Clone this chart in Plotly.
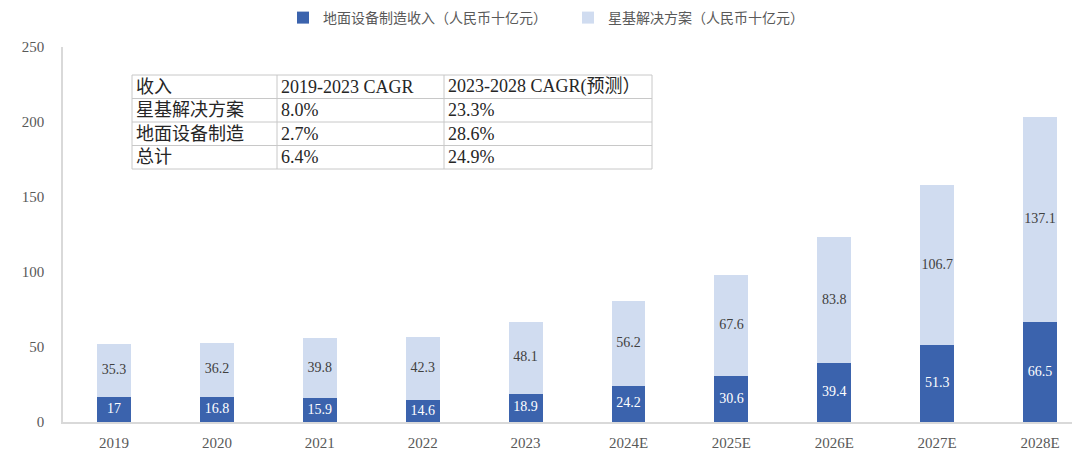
import plotly.graph_objects as go

# ---- data ----
years = ["2019", "2020", "2021", "2022", "2023", "2024E", "2025E", "2026E", "2027E", "2028E"]
ground_equipment = [17, 16.8, 15.9, 14.6, 18.9, 24.2, 30.6, 39.4, 51.3, 66.5]
satellite_solutions = [35.3, 36.2, 39.8, 42.3, 48.1, 56.2, 67.6, 83.8, 106.7, 137.1]
ground_name = "地面设备制造收入（人民币十亿元）"
sat_name = "星基解决方案（人民币十亿元）"

table_header = ["收入", "2019-2023 CAGR", "2023-2028 CAGR(预测）"]
table_rows = ["星基解决方案", "地面设备制造", "总计"]
cagr_2019_2023 = ["8.0%", "2.7%", "6.4%"]
cagr_2023_2028 = ["23.3%", "28.6%", "24.9%"]

# ---- styles ----
DARK = "#3B63AD"
LIGHT = "#D0DCF0"
GRAY = "#595959"
SERIF = "Liberation Serif, DejaVu Serif, serif"
CJK = "Noto Sans CJK SC"

OFF = 8  # page body margin in the browser
W, H = 1080 - OFF, 464 - OFF
ML, MR, MT, MB = 63 - OFF, 0, 47 - OFF, 42
PW, PH = W - ML - MR, H - MT - MB
PLOT_LEFT_IMG, PLOT_BOTTOM_IMG = ML + OFF, MT + OFF + PH

fig = go.Figure()
fig.add_trace(go.Bar(x=years, y=ground_equipment, name=ground_name,
                     marker=dict(color=DARK, line=dict(width=0)), hoverinfo="x+y"))
fig.add_trace(go.Bar(x=years, y=satellite_solutions, name=sat_name,
                     marker=dict(color=LIGHT, line=dict(width=0)), hoverinfo="x+y"))

# labels centred in each segment
fig.add_trace(go.Scatter(
    x=years, y=[v / 2 for v in ground_equipment], mode="text",
    text=[f"{v:g}" for v in ground_equipment],
    textfont=dict(family=SERIF, size=14, color="white"),
    showlegend=False, hoverinfo="skip", cliponaxis=False))
fig.add_trace(go.Scatter(
    x=years, y=[g + s / 2 for g, s in zip(ground_equipment, satellite_solutions)], mode="text",
    text=[f"{v:g}" for v in satellite_solutions],
    textfont=dict(family=SERIF, size=14, color="#404040"),
    showlegend=False, hoverinfo="skip", cliponaxis=False))

# ---- table (pixel layout converted to paper coords) ----
def px(x):
    return (x - PLOT_LEFT_IMG) / PW

def py(y):
    return (PLOT_BOTTOM_IMG - y) / PH

col_x = [132, 277, 444, 652]
row_y = [75, 98.5, 122, 145.5, 169]
line_col = "#C8C8C8"
shapes = []
shapes.append(dict(type="rect", xref="paper", yref="paper",
                   x0=px(col_x[0]), x1=px(col_x[-1]), y0=py(row_y[-1]), y1=py(row_y[0]),
                   fillcolor="white", line=dict(color=line_col, width=1), layer="above"))
for yy in row_y[1:-1]:
    shapes.append(dict(type="line", xref="paper", yref="paper",
                       x0=px(col_x[0]), x1=px(col_x[-1]), y0=py(yy), y1=py(yy),
                       line=dict(color=line_col, width=1), layer="above"))
for xx in col_x[1:-1]:
    shapes.append(dict(type="line", xref="paper", yref="paper",
                       x0=px(xx), x1=px(xx), y0=py(row_y[-1]), y1=py(row_y[0]),
                       line=dict(color=line_col, width=1), layer="above"))

cells = [table_header] + [[r, a, b] for r, a, b in zip(table_rows, cagr_2019_2023, cagr_2023_2028)]
annotations = []
for ri, row in enumerate(cells):
    yc = (row_y[ri] + row_y[ri + 1]) / 2
    for ci, txt in enumerate(row):
        annotations.append(dict(
            text=txt, xref="paper", yref="paper", x=px(col_x[ci] + 2), y=py(yc),
            xanchor="left", yanchor="middle", showarrow=False,
            font=dict(family=f"Liberation Serif, {CJK}", size=18, color="#262626")))

fig.update_layout(
    width=W, height=H,
    margin=dict(l=ML, r=MR, t=MT, b=MB, autoexpand=False),
    barmode="stack", bargap=0.67,
    plot_bgcolor="white", paper_bgcolor="white",
    shapes=shapes, annotations=annotations,
    legend=dict(orientation="h", x=px(283), xanchor="left", y=py(18), yanchor="middle",
                traceorder="normal",
                font=dict(family=CJK, size=14, color=GRAY), bgcolor="rgba(0,0,0,0)",
                entrywidth=240, entrywidthmode="pixels", itemclick=False),
    xaxis=dict(type="category", range=[-0.496, 9.388], showgrid=False, showline=True,
               linecolor="#D9D9D9", linewidth=1.5, ticks="", ticklabelstandoff=6,
               tickfont=dict(family=SERIF, size=15, color=GRAY), fixedrange=True),
    yaxis=dict(range=[0, 250], dtick=50, showgrid=False, showline=True, zeroline=False,
               linecolor="#D9D9D9", linewidth=1.5, ticks="", ticklabelstandoff=14,
               tickfont=dict(family=SERIF, size=15, color=GRAY), fixedrange=True),
)

fig.write_html("out.html")
